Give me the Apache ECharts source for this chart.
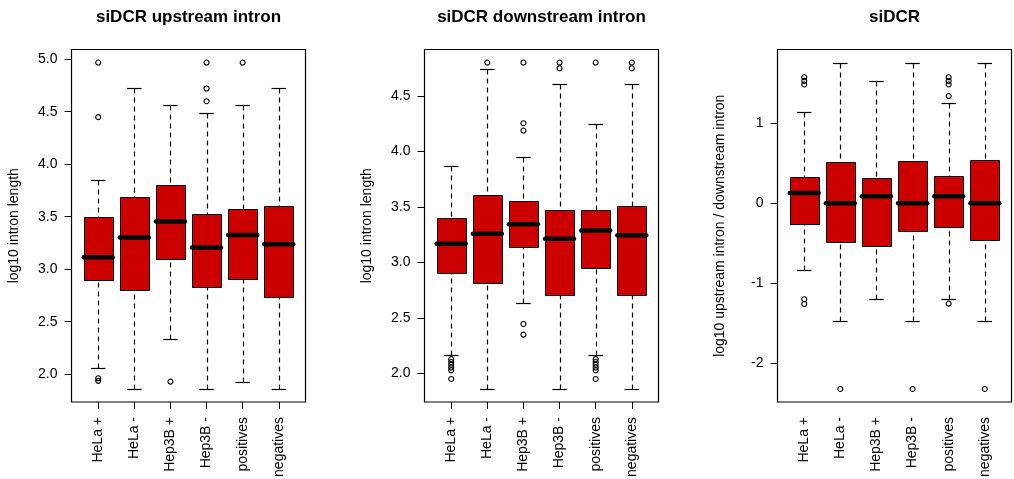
<!DOCTYPE html>
<html>
<head>
<meta charset="utf-8">
<script src="https://cdn.jsdelivr.net/npm/echarts@6/dist/echarts.min.js"></script>
<style>
html,body{margin:0;padding:0;background:#fff;}
#chart{width:1014px;height:479px;}
</style>
</head>
<body>
<div id="chart"></div>
<script>
// ---------- data ----------
const categories = ['HeLa +', 'HeLa -', 'Hep3B +', 'Hep3B -', 'positives', 'negatives'];

const titles = ['siDCR upstream intron', 'siDCR downstream intron', 'siDCR'];
const yNames = ['log10 intron length', 'log10 intron length', 'log10 upstream intron / downstream intron'];

// panel 1: siDCR upstream intron
const upLo  = [2.063, 1.860, 2.337, 1.860, 1.930, 1.860];
const upQ1  = [2.898, 2.800, 3.098, 2.832, 2.911, 2.737];
const upMed = [3.114, 3.302, 3.454, 3.206, 3.327, 3.238];
const upQ3  = [3.502, 3.692, 3.806, 3.530, 3.575, 3.603];
const upHi  = [3.851, 4.724, 4.565, 4.492, 4.565, 4.724];
const upOut = [[4.968, 4.448, 1.962, 1.937], [], [1.930], [4.968, 4.721, 4.600], [4.968], []];
const upTicks = [2.0, 2.5, 3.0, 3.5, 4.0, 4.5, 5.0];

// panel 2: siDCR downstream intron
const dnLo  = [2.168, 1.862, 2.633, 1.862, 2.168, 1.862];
const dnQ1  = [2.906, 2.819, 3.140, 2.705, 2.948, 2.705];
const dnMed = [3.170, 3.260, 3.344, 3.213, 3.288, 3.245];
const dnQ3  = [3.402, 3.606, 3.555, 3.474, 3.474, 3.513];
const dnHi  = [3.870, 4.746, 3.954, 4.605, 4.251, 4.605];
const dnOut = [[2.130, 2.105, 2.080, 2.055, 2.030, 1.952], [4.800],
               [4.800, 4.254, 4.188, 2.447, 2.351], [4.800, 4.749],
               [4.800, 2.130, 2.105, 2.080, 2.055, 2.030, 1.952], [4.800, 4.749]];
const dnTicks = [2.0, 2.5, 3.0, 3.5, 4.0, 4.5];

// panel 3: siDCR ratio
const rLo  = [-0.835, -1.467, -1.193, -1.467, -1.197, -1.467];
const rQ1  = [-0.261, -0.481, -0.540, -0.348, -0.298, -0.465];
const rMed = [0.126, -0.003, 0.085, -0.003, 0.085, -0.003];
const rQ3  = [0.326, 0.517, 0.313, 0.521, 0.334, 0.538];
const rHi  = [1.133, 1.753, 1.520, 1.753, 1.245, 1.753];
const rOut = [[1.570, 1.525, 1.480, -1.200, -1.260], [-2.320], [], [-2.320],
              [1.570, 1.525, 1.480, 1.335, -1.255], [-2.320]];
const rTicks = [-2, -1, 0, 1];

// ---------- build ----------
const FONT = "'Liberation Sans', Arial, Helvetica, sans-serif";
const panels = [
  {lo: upLo, q1: upQ1, med: upMed, q3: upQ3, hi: upHi, out: upOut, ticks: upTicks, dec: 1},
  {lo: dnLo, q1: dnQ1, med: dnMed, q3: dnQ3, hi: dnHi, out: dnOut, ticks: dnTicks, dec: 1},
  {lo: rLo,  q1: rQ1,  med: rMed,  q3: rQ3,  hi: rHi,  out: rOut,  ticks: rTicks,  dec: 0}
];
const gridLeft = [71.5, 424.5, 777.5];
const gridWidth = 234;
const gridTop = 49.5;
const gridHeight = 352.5;

function rangeOf(p) {
  let mn = Math.min(...p.lo), mx = Math.max(...p.hi);
  p.out.forEach(a => a.forEach(v => { mn = Math.min(mn, v); mx = Math.max(mx, v); }));
  const d = (mx - mn) * 0.04;
  return [mn - d, mx + d];
}

function renderBox(params, api) {
  const x = api.value(0);
  const lo = api.value(1), q1 = api.value(2), med = api.value(3), q3 = api.value(4), hi = api.value(5);
  const hw = 0.4, sw = 0.2;
  const cx = Math.round(api.coord([x, med])[0]) + 0.5;
  const bl = api.coord([x - hw, q3])[0], br = api.coord([x + hw, q3])[0];
  const cl = api.coord([x - sw, hi])[0], cr = api.coord([x + sw, hi])[0];
  const y = v => api.coord([x, v])[1];
  const yHi = Math.round(y(hi)) + 0.5, yLo = Math.round(y(lo)) + 0.5;
  const yQ1 = Math.round(y(q1)) + 0.5, yQ3 = Math.round(y(q3)) + 0.5, yMed = y(med);
  const solid = {stroke: '#000', lineWidth: 1.2};
  const dash = {stroke: '#000', lineWidth: 1.2, lineDash: [5, 4]};
  const L = Math.round(bl) + 0.5, R = Math.round(br) + 0.5;
  return {
    type: 'group',
    children: [
      {type: 'line', shape: {x1: cx, y1: yHi, x2: cx, y2: yQ3}, style: dash},
      {type: 'line', shape: {x1: cx, y1: yLo, x2: cx, y2: yQ1}, style: dash},
      {type: 'line', shape: {x1: cl, y1: yHi, x2: cr, y2: yHi}, style: solid},
      {type: 'line', shape: {x1: cl, y1: yLo, x2: cr, y2: yLo}, style: solid},
      {type: 'rect', shape: {x: L, y: yQ3, width: R - L, height: yQ1 - yQ3},
       style: {fill: '#CD0000', stroke: '#000', lineWidth: 1}},
      {type: 'line', shape: {x1: bl, y1: yMed, x2: br, y2: yMed},
       style: {stroke: '#000', lineWidth: 4.5, lineCap: 'round'}}
    ]
  };
}

const grids = [], xAxes = [], yAxes = [], series = [], graphics = [];
const catIdx = categories.map((c, i) => i + 1);

panels.forEach((p, k) => {
  const [ymin, ymax] = rangeOf(p);
  grids.push({
    left: gridLeft[k], top: gridTop, width: gridWidth, height: gridHeight,
    show: true, borderColor: '#000', borderWidth: 1.2, backgroundColor: 'transparent',
    containLabel: false, outerBoundsMode: 'none'
  });
  xAxes.push({
    type: 'value', gridIndex: k, min: 0.26, max: 6.74,
    splitLine: {show: false}, axisLine: {show: false},
    axisTick: {show: true, customValues: catIdx, length: 7, lineStyle: {color: '#000', width: 1}},
    axisLabel: {
      show: true, customValues: catIdx, rotate: 90, margin: 15,
      formatter: v => categories[Math.round(v) - 1],
      fontSize: 14, color: '#000', fontFamily: FONT
    }
  });
  yAxes.push({
    type: 'value', gridIndex: k, min: ymin, max: ymax,
    splitLine: {show: false}, axisLine: {show: false},
    axisTick: {show: true, customValues: p.ticks, length: 7, lineStyle: {color: '#000', width: 1}},
    axisLabel: {
      show: true, customValues: p.ticks, margin: 14,
      formatter: v => Number(v).toFixed(p.dec),
      fontSize: 14, color: '#000', fontFamily: FONT
    },
    name: yNames[k], nameLocation: 'middle', nameRotate: 90, nameGap: 50,
    nameTextStyle: {fontSize: 14, color: '#000', fontFamily: FONT}
  });
  series.push({
    type: 'custom', xAxisIndex: k, yAxisIndex: k,
    renderItem: renderBox, clip: false,
    encode: {x: 0, y: [1, 2, 3, 4, 5]},
    data: categories.map((c, i) => [i + 1, p.lo[i], p.q1[i], p.med[i], p.q3[i], p.hi[i]]),
    silent: true, animation: false
  });
  const pts = [];
  p.out.forEach((arr, i) => arr.forEach(v => pts.push([i + 1, v])));
  series.push({
    type: 'scatter', xAxisIndex: k, yAxisIndex: k,
    symbol: 'circle', symbolSize: 5,
    itemStyle: {color: 'rgba(0,0,0,0)', borderColor: '#000', borderWidth: 1.1, opacity: 1},
    data: pts, silent: true, animation: false, z: 3
  });
  graphics.push({
    type: 'text', x: gridLeft[k] + gridWidth / 2, y: 17.4,
    style: {text: titles[k], fontSize: 17, fontWeight: 'bold', fontFamily: FONT,
            fill: '#000', align: 'center', verticalAlign: 'middle'}
  });
});

const chart = echarts.init(document.getElementById('chart'), null, {renderer: 'canvas'});
chart.setOption({
  animation: false,
  backgroundColor: '#fff',
  grid: grids,
  xAxis: xAxes,
  yAxis: yAxes,
  series: series,
  graphic: graphics
});
</script>
</body>
</html>
